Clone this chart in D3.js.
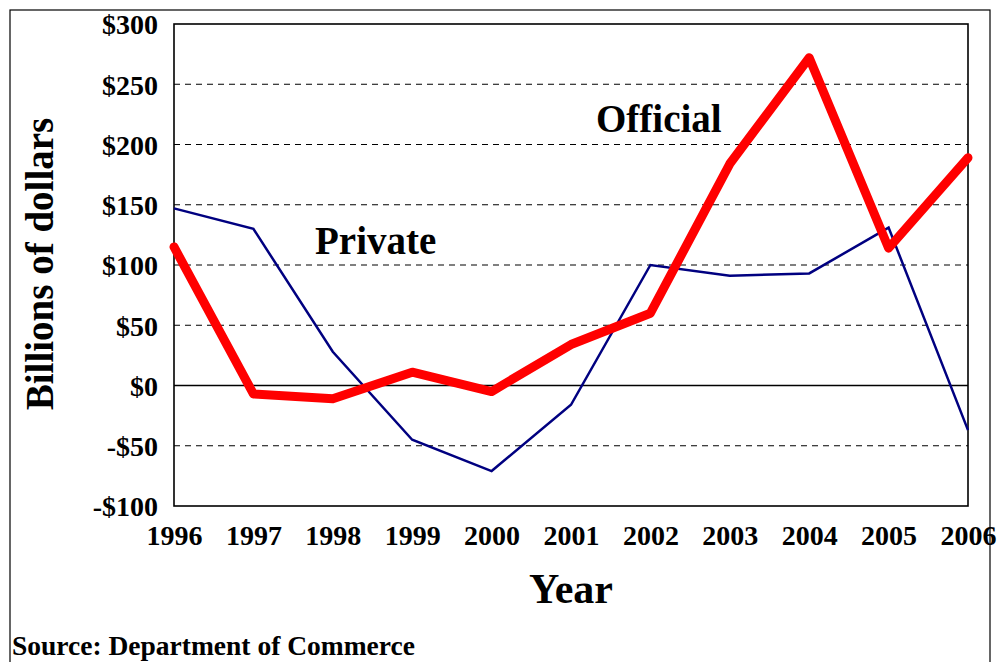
<!DOCTYPE html>
<html><head><meta charset="utf-8">
<script src="https://cdn.jsdelivr.net/npm/d3@7/dist/d3.min.js"></script>
<style>body{margin:0;background:#fff}svg{display:block}text{font-family:"Liberation Serif","Times New Roman",serif;font-weight:bold;fill:#000}</style>
</head><body><svg id="c" width="1000" height="662"></svg>
<script>
const years = ["1996","1997","1998","1999","2000","2001","2002","2003","2004","2005","2006"];
const privateVals = [147, 130, 28, -45, -71, -16, 100, 91, 93, 131, -37];
const officialVals = [115, -7, -11, 11, -5, 34, 60, 184, 272, 114, 189];
const yTicks = [-100, -50, 0, 50, 100, 150, 200, 250, 300];
const seriesLabels = ["Private", "Official"];

const svg = d3.select("#c");
const L = 174, R = 968, T = 24, B = 506;
const x = d3.scalePoint().domain(years).range([L, R]);
const y = d3.scaleLinear().domain([-100, 300]).range([B, T]);

// outer frame
svg.append("rect").attr("x", 10).attr("y", 10).attr("width", 980).attr("height", 700)
  .attr("fill", "none").attr("stroke", "#000").attr("stroke-width", 1.2);

// grid
svg.append("g").selectAll("line").data(yTicks.filter(d => d !== 0 && d !== 300 && d !== -100)).join("line")
  .attr("x1", L).attr("x2", R).attr("y1", d => y(d)).attr("y2", d => y(d))
  .attr("stroke", "#000").attr("stroke-width", 1).attr("stroke-dasharray", "6,5");
svg.append("line").attr("x1", L).attr("x2", R).attr("y1", y(0)).attr("y2", y(0))
  .attr("stroke", "#000").attr("stroke-width", 1.3);

// plot frame
svg.append("rect").attr("x", L).attr("y", T).attr("width", R - L).attr("height", B - T)
  .attr("fill", "none").attr("stroke", "#000").attr("stroke-width", 1.6);

// axes
const yAxis = svg.append("g").attr("transform", `translate(${L},0)`)
  .call(d3.axisLeft(y).tickValues(yTicks).tickSize(0).tickPadding(16)
    .tickFormat(d => (d < 0 ? "-$" : "$") + Math.abs(d)));
yAxis.select(".domain").remove();
yAxis.selectAll("text").attr("font-size", 28).attr("dy", "0.35em")
  .style("font-family", '"Liberation Serif",serif').style("font-weight", "bold");

const xAxis = svg.append("g").attr("transform", `translate(0,${B})`)
  .call(d3.axisBottom(x).tickSize(0).tickPadding(19));
xAxis.select(".domain").remove();
xAxis.selectAll("text").attr("font-size", 28)
  .style("font-family", '"Liberation Serif",serif').style("font-weight", "bold");

// lines
const line = d3.line().x((d, i) => x(years[i])).y(d => y(d));
svg.append("path").datum(privateVals).attr("d", line).attr("fill", "none")
  .attr("stroke", "#000080").attr("stroke-width", 2.5).attr("stroke-linejoin", "miter");
svg.append("path").datum(officialVals).attr("d", line).attr("fill", "none")
  .attr("stroke", "#ff0000").attr("stroke-width", 9).attr("stroke-linejoin", "round").attr("stroke-linecap", "round");

// labels
svg.append("text").attr("x", 315).attr("y", 254).attr("font-size", 39).text(seriesLabels[0]);
svg.append("text").attr("x", 596).attr("y", 132).attr("font-size", 39).text(seriesLabels[1]);

svg.append("text").attr("x", 571).attr("y", 603).attr("text-anchor", "middle").attr("font-size", 42).text("Year");
svg.append("text").attr("transform", "translate(53,264) rotate(-90)").attr("text-anchor", "middle")
  .attr("font-size", 39).text("Billions of dollars");
svg.append("text").attr("x", 12).attr("y", 655).attr("font-size", 27.5).text("Source: Department of Commerce");
</script></body></html>
